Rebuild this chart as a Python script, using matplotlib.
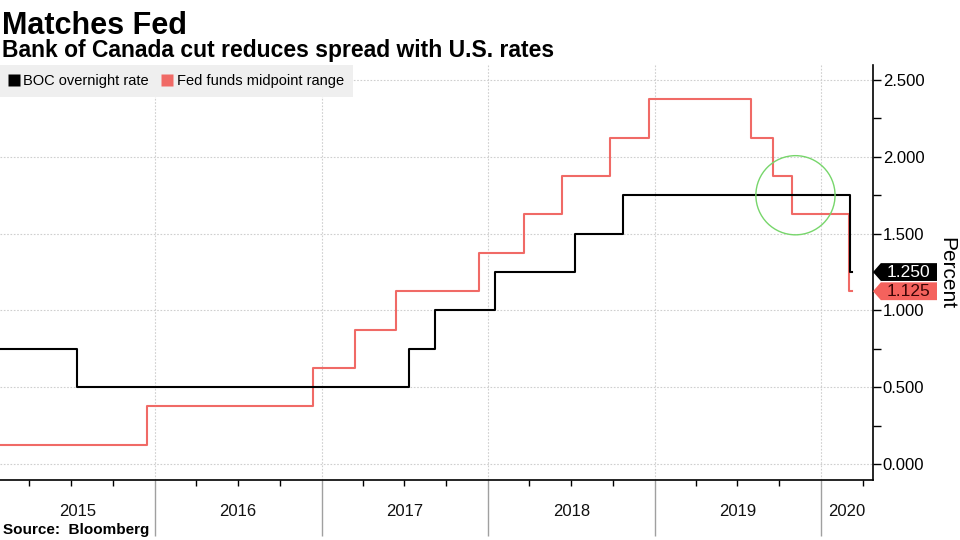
import matplotlib
matplotlib.use("Agg")
import matplotlib.pyplot as plt
import matplotlib.dates as mdates
from matplotlib.patches import Polygon
from matplotlib.lines import Line2D
from matplotlib.transforms import blended_transform_factory
import pandas as pd

plt.rcParams['font.family'] = ['Liberation Sans', 'DejaVu Sans']

# step dates and the rate that applies from each date on
boc_dates = ['2015-01-27', '2015-07-15', '2017-07-12', '2017-09-06',
             '2018-01-17', '2018-07-11', '2018-10-24', '2020-03-04', '2020-03-09']
boc_rates = [0.75, 0.50, 0.75, 1.00, 1.25, 1.50, 1.75, 1.25, 1.25]

fed_dates = ['2015-01-27', '2015-12-16', '2016-12-14', '2017-03-15', '2017-06-14',
             '2017-12-13', '2018-03-21', '2018-06-13', '2018-09-26', '2018-12-19',
             '2019-07-31', '2019-09-18', '2019-10-30', '2020-03-03', '2020-03-09']
fed_rates = [0.125, 0.375, 0.625, 0.875, 1.125, 1.375, 1.625, 1.875, 2.125, 2.375,
             2.125, 1.875, 1.625, 1.125, 1.125]

years = [2015, 2016, 2017, 2018, 2019, 2020]
last_boc = 1.25
last_fed = 1.125

BLACK = '#000000'
RED = '#f06a66'
GRID = '#cfcfcf'

boc_x = pd.to_datetime(boc_dates)
fed_x = pd.to_datetime(fed_dates)

fig = plt.figure(figsize=(9.6, 5.4), dpi=100)
ax = fig.add_axes([0.0, 1 - 480 / 540, 873 / 960, (480 - 65) / 540])

ax.plot(fed_x, fed_rates, drawstyle='steps-post', color=RED, lw=1.5, zorder=3)
ax.plot(boc_x, boc_rates, drawstyle='steps-post', color=BLACK, lw=1.5, zorder=4)

# highlight circle around the crossing
ax.scatter([pd.Timestamp('2019-11-06')], [1.75], s=3250, facecolors='none',
           edgecolors='#77d66b', linewidths=1.0, zorder=5)

x0 = pd.Timestamp('2015-01-27')
x1 = pd.Timestamp('2020-04-24')
ax.set_xlim(x0, x1)
ax.set_ylim(-0.104, 2.598)

# y axis on the right
ax.yaxis.tick_right()
ax.set_yticks([0, 0.5, 1.0, 1.5, 2.0, 2.5])
ax.set_yticks([0.25, 0.75, 1.25, 1.75, 2.25], minor=True)
ax.yaxis.set_major_formatter(matplotlib.ticker.FormatStrFormatter('%.3f'))
ax.tick_params(axis='y', which='both', direction='out', length=6, width=1,
               labelsize=12, pad=1, colors=BLACK)

# x axis: quarter ticks, long grey year separators
ax.xaxis.set_major_locator(mdates.YearLocator())
ax.xaxis.set_minor_locator(mdates.MonthLocator(bymonth=[4, 7, 10]))
ax.xaxis.set_major_formatter(matplotlib.ticker.NullFormatter())
ax.tick_params(axis='x', which='major', direction='out', length=40, width=1,
               color='#a0a0a0')
ax.tick_params(axis='x', which='minor', direction='out', length=4, width=1,
               color=BLACK)

ax.grid(True, which='major', axis='both', color=GRID, ls=(0, (1.5, 1.5)), lw=0.8)
ax.set_axisbelow(True)

for s in ['left', 'top']:
    ax.spines[s].set_visible(False)
for s in ['right', 'bottom']:
    ax.spines[s].set_color(BLACK)
    ax.spines[s].set_linewidth(1.2)

# year labels centred in the visible part of each year
xt = ax.get_xaxis_transform()
for y in years:
    a = max(pd.Timestamp(f'{y}-01-01'), x0)
    b = min(pd.Timestamp(f'{y + 1}-01-01'), x1)
    mid = a + (b - a) / 2
    ax.text(mid, -0.077, str(y), transform=xt, ha='center', va='center',
            fontsize=12, color='#111111')

# last value tags on the right axis
bt = blended_transform_factory(ax.transAxes, ax.transData)
h = 0.058
for val, fc, tc in [(last_boc, BLACK, 'white'), (last_fed, '#f4625d', '#3a0505')]:
    poly = Polygon([(1.0, val), (1.009, val + h), (1.0733, val + h),
                    (1.0733, val - h), (1.009, val - h)], closed=True,
                   transform=bt, facecolor=fc, edgecolor='none', clip_on=False,
                   zorder=6)
    ax.add_patch(poly)
    ax.text(1.041, val, f'{val:.3f}', transform=bt, ha='center', va='center',
            fontsize=12.5, color=tc, zorder=7, clip_on=False)

# legend
handles = [Line2D([], [], marker='s', color='none', markerfacecolor=BLACK,
                  markeredgecolor='none', markersize=9, label='BOC overnight rate'),
           Line2D([], [], marker='s', color='none', markerfacecolor=RED,
                  markeredgecolor='none', markersize=9, label='Fed funds midpoint range')]
leg = ax.legend(handles=handles, loc='upper left', bbox_to_anchor=(0.0, 1.0),
                ncol=2, frameon=True, fancybox=False, borderaxespad=0.0,
                fontsize=10.5, handlelength=0.7, handletextpad=0.3,
                columnspacing=0.9, borderpad=0.6)
leg.get_frame().set_facecolor('#efefef')
leg.get_frame().set_edgecolor('none')
leg.get_frame().set_alpha(1.0)

fig.text(947 / 960, 1 - 273 / 540, 'Percent', rotation=270, ha='center',
         va='center', fontsize=15, color=BLACK)

fig.text(2 / 960, 1 - 34 / 540, 'Matches Fed', fontsize=22, fontweight='bold',
         va='baseline', ha='left')
fig.text(2 / 960, 1 - 57 / 540, 'Bank of Canada cut reduces spread with U.S. rates',
         fontsize=16.5, fontweight='bold', va='baseline', ha='left')
fig.text(3 / 960, 1 - 530 / 540, 'Source:  Bloomberg', fontsize=11,
         fontweight='bold', va='center', ha='left')

fig.savefig('out.png', dpi=100)
